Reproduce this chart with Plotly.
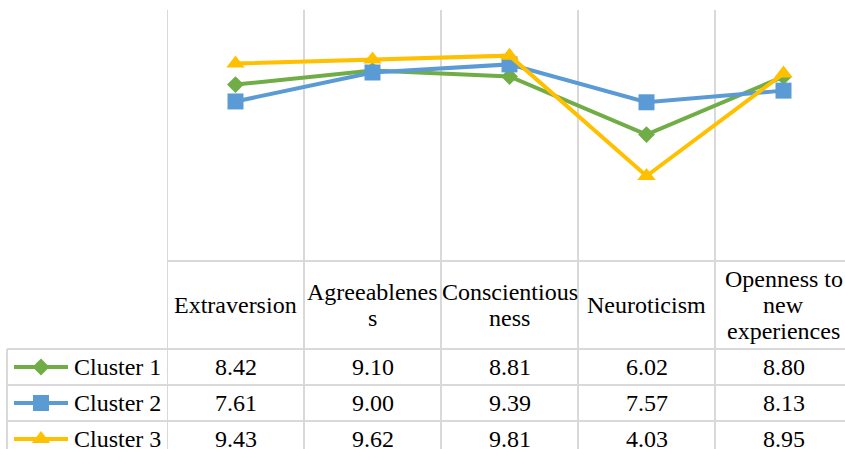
import plotly.graph_objects as go

# ---- data ----
categories = ["Extraversion", "Agreeableness", "Conscientiousness", "Neuroticism",
              "Openness to new experiences"]
header_lines = [["Extraversion"], ["Agreeablenes", "s"], ["Conscientious", "ness"],
                ["Neuroticism"], ["Openness to", "new", "experiences"]]
series_names = ["Cluster 1", "Cluster 2", "Cluster 3"]
cluster1 = [8.42, 9.10, 8.81, 6.02, 8.80]
cluster2 = [7.61, 9.00, 9.39, 7.57, 8.13]
cluster3 = [9.43, 9.62, 9.81, 4.03, 8.95]

# ---- styling / layout constants ----
W, H = 845, 449
colors = ["#70AD47", "#5B9BD5", "#FFC000"]
symbols = ["diamond", "square", "triangle-up"]
msizes = [13, 16, 16]
grid_c = "#D9D9D9"
FONT = dict(family="Liberation Serif", size=24, color="#000000")

plot_left, plot_top, plot_bottom = 167, 10, 260
col_w = 137
table_top = 261
header_bottom = 349
row_h = 36
row_left = 7

def py(p):
    return 1 - p / H

def px(p):
    return p / W

fig = go.Figure()
series = [cluster1, cluster2, cluster3]
xs = list(range(len(categories)))
for name, vals, c, s, ms in zip(series_names, series, colors, symbols, msizes):
    fig.add_trace(go.Scatter(
        x=xs, y=vals, mode="lines+markers", name=name,
        line=dict(color=c, width=4),
        marker=dict(symbol=s, size=ms, color=c, line=dict(width=0)),
        showlegend=False, hoverinfo="skip"))

# legend keys in row headers (pixel coordinate overlay axes)
for i, (c, s, ms) in enumerate(zip(colors, symbols, msizes)):
    yc = header_bottom + row_h * i + row_h / 2
    fig.add_trace(go.Scatter(
        x=[14, 68], y=[yc, yc], mode="lines", line=dict(color=c, width=4),
        xaxis="x2", yaxis="y2", showlegend=False, hoverinfo="skip"))
    fig.add_trace(go.Scatter(
        x=[41], y=[yc], mode="markers",
        marker=dict(symbol=s, size=ms, color=c, line=dict(width=0)),
        xaxis="x2", yaxis="y2", showlegend=False, hoverinfo="skip"))

shapes = []
# vertical column lines
for k in range(len(categories) + 1):
    shapes.append(dict(type="line", xref="x", yref="paper", x0=k - 0.5, x1=k - 0.5,
                       y0=0, y1=py(plot_top), line=dict(color=grid_c, width=2), layer="below"))
# left border of row headers
shapes.append(dict(type="line", xref="paper", yref="paper", x0=px(row_left), x1=px(row_left),
                   y0=0, y1=py(header_bottom), line=dict(color=grid_c, width=2), layer="below"))
# horizontal table lines
shapes.append(dict(type="line", xref="paper", yref="paper", x0=px(plot_left), x1=1,
                   y0=py(table_top), y1=py(table_top), line=dict(color=grid_c, width=2), layer="below"))
for i in range(len(series_names)):
    yy = header_bottom + row_h * i
    shapes.append(dict(type="line", xref="paper", yref="paper", x0=px(row_left), x1=1,
                       y0=py(yy), y1=py(yy), line=dict(color=grid_c, width=2), layer="below"))

annotations = []
# header labels
hc = (table_top + header_bottom) / 2
for i, lines in enumerate(header_lines):
    n = len(lines)
    for j, ln in enumerate(lines):
        yy = hc + (j - (n - 1) / 2) * 26
        annotations.append(dict(text=ln, x=i, xref="x", y=py(yy), yref="paper",
                                xanchor="center", yanchor="middle", showarrow=False, font=FONT))
# row labels and values
for r, (name, vals) in enumerate(zip(series_names, series)):
    yc = header_bottom + row_h * r + row_h / 2
    annotations.append(dict(text=name, x=px(72), xref="paper", y=py(yc), yref="paper",
                            xanchor="left", yanchor="middle", showarrow=False, font=FONT))
    for i, v in enumerate(vals):
        annotations.append(dict(text=f"{v:.2f}", x=i, xref="x", y=py(yc), yref="paper",
                                xanchor="center", yanchor="middle", showarrow=False, font=FONT))

fig.update_layout(
    width=W, height=H, margin=dict(l=0, r=0, t=0, b=0),
    paper_bgcolor="white", plot_bgcolor="rgba(0,0,0,0)",
    xaxis=dict(domain=[px(plot_left), 1], range=[-0.5, -0.5 + (W - plot_left) / col_w],
               showgrid=False, zeroline=False, showticklabels=False, showline=False, fixedrange=True),
    yaxis=dict(domain=[py(plot_bottom), py(plot_top)], range=[0, 12],
               showgrid=False, zeroline=False, showticklabels=False, showline=False, fixedrange=True),
    xaxis2=dict(domain=[0, 1], range=[0, W], anchor="y2", visible=False, fixedrange=True),
    yaxis2=dict(domain=[0, 1], range=[H, 0], anchor="x2", visible=False, fixedrange=True),
    shapes=shapes, annotations=annotations, showlegend=False,
)

fig.write_html("out.html", config={"displayModeBar": False},
               post_script="document.body.style.margin='0';document.body.style.overflow='hidden';")
